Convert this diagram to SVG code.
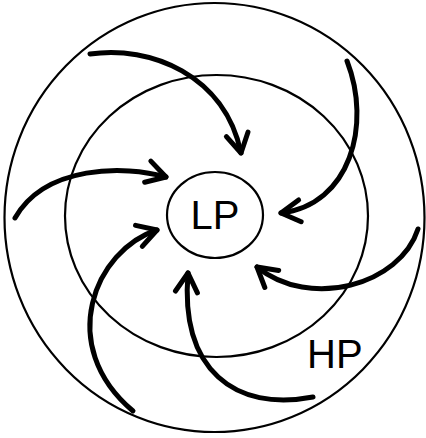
<svg xmlns="http://www.w3.org/2000/svg" width="426" height="438" viewBox="0 0 426 438">
<style>
.ring{fill:none;stroke:#000;stroke-width:2.2}
.flow{fill:none;stroke:#000;stroke-width:5;stroke-linecap:round;stroke-linejoin:round}
.lbl{font-family:"Liberation Sans",Arial,sans-serif;font-size:40px;fill:#000}
</style>
<defs>
<marker id="head" markerUnits="userSpaceOnUse" markerWidth="30" markerHeight="30" refX="0" refY="0" viewBox="-24 -15 28 30" orient="auto" overflow="visible">
<path d="M-19,-11 L0,0 L-19,11" fill="none" stroke="#000" stroke-width="5" stroke-linecap="round" stroke-linejoin="round"/>
</marker>
</defs>
<rect width="426" height="438" fill="#fff"/>
<g id="hp">
<ellipse class="ring" cx="214.5" cy="217.5" rx="210" ry="214.5"/>
<text class="lbl" x="307" y="368">HP</text>
</g>
<g id="middle">
<ellipse class="ring" cx="216.5" cy="216" rx="151.5" ry="141"/>
</g>
<g id="lp">
<ellipse class="ring" cx="215" cy="215" rx="48" ry="43"/>
<text class="lbl" x="215" y="229" text-anchor="middle">LP</text>
</g>
<g id="connectors">
<path class="flow" marker-end="url(#head)" d="M90,54 C150,45 225,75 241,153"/>
<path class="flow" marker-end="url(#head)" d="M347,61 C372,125 350,205 281,213"/>
<path class="flow" marker-end="url(#head)" d="M15,218 C45,165 125,165 166,177"/>
<path class="flow" marker-end="url(#head)" d="M418,229 C400,285 310,310 257,267"/>
<path class="flow" marker-end="url(#head)" d="M133,411 C55,345 95,250 157,230"/>
<path class="flow" marker-end="url(#head)" d="M313,397 C235,412 180,370 188,273"/>
</g>
</svg>
